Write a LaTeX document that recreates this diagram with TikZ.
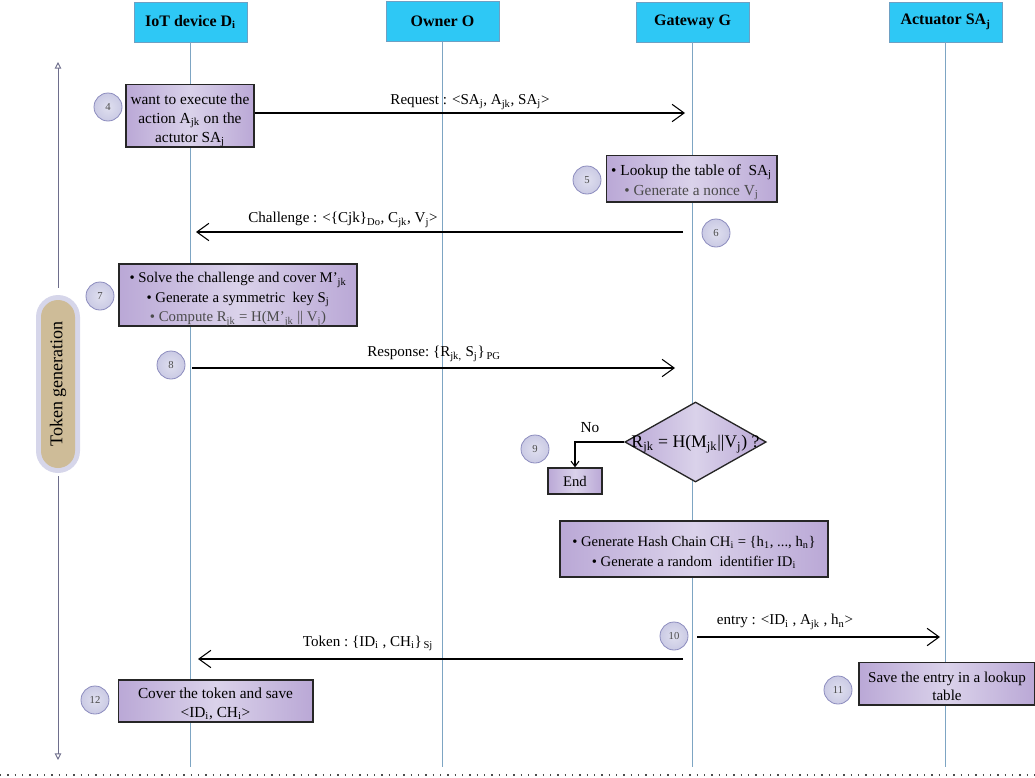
\documentclass[tikz,border=0pt]{standalone}
\usepackage{fontspec}
\setmainfont{Liberation Serif}
\usetikzlibrary{arrows.meta,shapes.geometric,calc}
\newcommand{\sbs}[1]{\textsubscript{#1}}
\definecolor{hdr}{RGB}{46,200,245}
\definecolor{hdrb}{RGB}{110,160,195}
\definecolor{life}{RGB}{125,165,195}
\definecolor{boxedge}{RGB}{186,168,214}
\definecolor{boxmid}{RGB}{218,210,234}
\definecolor{circf}{RGB}{202,202,228}
\definecolor{circb}{RGB}{140,140,190}
\definecolor{tgray}{RGB}{75,75,75}
\definecolor{pillout}{RGB}{214,214,234}
\definecolor{pillin}{RGB}{206,188,152}
\definecolor{sidearrow}{RGB}{110,110,140}
\begin{document}
\begin{tikzpicture}[x=0.75pt,y=-0.75pt,
  font=\fontsize{11.3}{13}\selectfont,
  hdrbox/.style={draw=hdrb, fill=hdr, minimum width=85pt, minimum height=30pt,
    inner sep=0pt, font=\fontsize{12}{14}\selectfont\bfseries},
  lifeline/.style={draw=life, line width=0.8pt},
  actbox/.style={draw=black!85, line width=1pt, left color=boxedge, right color=boxedge,
    middle color=boxmid, inner sep=1pt, align=center},
  boxtext/.style={inner sep=0pt, align=center},
  stepnum/.style={circle, draw=circb, line width=0.6pt, inner color=circf!60, outer color=circf,
    minimum size=21pt, inner sep=0pt, font=\fontsize{8}{9}\selectfont, text=tgray},
  msg/.style={draw=black, line width=0.8pt, -{Straight Barb[length=9pt,width=13pt,line width=0.8pt]}},
  msglabel/.style={font=\fontsize{11.3}{13}\selectfont, inner sep=1pt},
  sidetip/.style={-{Triangle[open,length=5pt,width=5pt]}, draw=sidearrow, line width=0.7pt}
]
\useasboundingbox (0,0) rectangle (1035,778);

% headers
\node[hdrbox] (hD) at (190.5,22) {IoT device D\sbs{\bfseries i}};
\node[hdrbox] (hO) at (442.5,21.5) {Owner O};
\node[hdrbox] (hG) at (692.5,22) {Gateway G};
\node[hdrbox] (hA) at (945.5,22) {Actuator SA\sbs{\bfseries j}};

% lifeline ends
\coordinate (eD) at (190.5,767);
\coordinate (eO) at (442.5,767);
\coordinate (eG) at (692.5,767);
\coordinate (eA) at (945.5,767);
\draw[lifeline] (hD.south) -- (eD);
\draw[lifeline] (hO.south) -- (eO);
\draw[lifeline] (hG.south) -- (eG);
\draw[lifeline] (hA.south) -- (eA);

% side arrow + pill
\node[draw=none, fill=pillout, rounded corners=16.5pt, minimum width=33pt, minimum height=133.5pt, inner sep=0pt] (pill) at (58,384) {};
\node[draw=none, fill=pillin, rounded corners=12.75pt, minimum width=25.5pt, minimum height=126pt, inner sep=0pt] (pilltext) at (58,384) {};
\node[rotate=90, font=\fontsize{13.5}{15}\selectfont] (pilllabel) at (58,384) {Token generation};
\coordinate (sideTop) at (58,62);
\coordinate (sideBot) at (58,760);
\draw[sidetip] ($(pill.north)+(0,-7)$) -- (sideTop);
\draw[sidetip] ($(pill.south)+(0,3)$) -- (sideBot);

% step 4
\node[actbox, minimum width=96pt, minimum height=47pt] (s4) at (190,115.5) {};
\node[boxtext, font=\fontsize{11.5}{14.2}\selectfont] (s4t) at ($(s4.center)+(0,5)$)
  {want to execute the\\action A\sbs{jk} on the\\actutor SA\sbs{j}};
\node[stepnum] (n4) at (108,107) {4};
\coordinate (reqEnd) at (685,113);
\draw[msg] (s4.east |- reqEnd) -- (reqEnd);
\node[msglabel] (lreq) at (470,102) {Request : <SA\sbs{j}, A\sbs{jk}, SA\sbs{j}>};

% step 5
\node[actbox, minimum width=128pt, minimum height=35pt] (s5) at (691.5,178.5) {};
\node[boxtext, font=\fontsize{11.5}{15}\selectfont] (s5t) at ($(s5.center)+(0,4)$)
  {\textbullet\ Lookup the table of\ \ SA\sbs{j}\\\textcolor{tgray}{\textbullet\ Generate a nonce V\sbs{j}}};
\node[stepnum] (n5) at (587,180) {5};

% step 6 challenge
\node[stepnum] (n6) at (716,233) {6};
\coordinate (chS) at (683,232);
\coordinate (chE) at (196,232);
\draw[msg] (chS) -- (chE);
\node[msglabel] (lch) at (343,220) {Challenge : <\{Cjk\}\sbs{Do}, C\sbs{jk}, V\sbs{j}>};

% step 7
\node[actbox, minimum width=178.5pt, minimum height=46.5pt] (s7) at (238,295) {};
\node[boxtext, font=\fontsize{11.1}{14.6}\selectfont] (s7t) at ($(s7.center)+(0,4.5)$)
  {\textbullet\ Solve the challenge and cover M'\sbs{jk}\\
   \textbullet\ Generate a symmetric\ \ key S\sbs{j}\\
   \textcolor{tgray}{\textbullet\ Compute R\sbs{jk} = H(M'\sbs{jk} || V\sbs{j})}};
\node[stepnum] (n7) at (100,296) {7};

% step 8 response
\node[stepnum] (n8) at (171,365) {8};
\coordinate (rsS) at (192,368);
\coordinate (rsE) at (675,368);
\draw[msg] (rsS) -- (rsE);
\node[msglabel] (lrs) at (434,354) {Response:\ \{R\sbs{jk,} S\sbs{j}\}\sbs{\,PG}};

% step 9 decision
\node[diamond, draw=black!85, line width=1pt, left color=boxedge, right color=boxedge, middle color=boxmid,
      minimum width=106pt, minimum height=60pt, inner sep=0pt] (dia) at (695.5,442) {};
\node[font=\fontsize{13.3}{15}\selectfont] (dialabel) at (695.5,444) {R\sbs{jk} = H(M\sbs{jk}||V\sbs{j}) ?};
\node[actbox, minimum width=40.5pt, minimum height=19.5pt, font=\fontsize{11}{12}\selectfont] (end) at (575,481) {End};
\node[stepnum] (n9) at (535,449) {9};
\draw[line width=0.8pt, -{Straight Barb[length=4pt,width=6pt]}] (dia.west) -| (end.north);
\node[font=\fontsize{11.5}{13}\selectfont] (lno) at (590,428) {No};

% hash chain
\node[actbox, minimum width=201pt, minimum height=42pt] (hash) at (694,549) {};
\node[boxtext, font=\fontsize{11}{15}\selectfont] (hasht) at ($(hash.center)+(0,3.5)$)
  {\textbullet\ Generate Hash Chain CH\sbs{i} = \{h\sbs{1}, ..., h\sbs{n}\}\\
   \textbullet\ Generate a random\ \ identifier ID\sbs{i}};

% step 10 entry + token
\node[stepnum] (n10) at (674,636) {10};
\coordinate (enS) at (697,637);
\coordinate (enE) at (940,637);
\draw[msg] (enS) -- (enE);
\node[msglabel] (len) at (785,622) {entry : <ID\sbs{i} , A\sbs{jk} , h\sbs{n}>};
\coordinate (tkS) at (683,659);
\coordinate (tkE) at (198,659);
\draw[msg] (tkS) -- (tkE);
\node[msglabel] (ltk) at (368,643) {Token :\ \{ID\sbs{i} , CH\sbs{i}\}\sbs{\,Sj}};

% step 11
\node[actbox, minimum width=132pt, minimum height=32pt] (s11) at (947,683.5) {};
\node[boxtext, font=\fontsize{11.3}{13.5}\selectfont] (s11t) at ($(s11.center)+(0,3)$)
  {Save the entry in a lookup\\table};
\node[stepnum] (n11) at (838,690) {11};

% step 12
\node[actbox, minimum width=146pt, minimum height=31.5pt] (s12) at (215.5,701) {};
\node[boxtext, font=\fontsize{11.5}{14}\selectfont] (s12t) at ($(s12.center)+(0,3)$)
  {Cover the token and save\\<ID\sbs{i}, CH\sbs{i}>};
\node[stepnum] (n12) at (95,700) {12};

% bottom dotted line
\coordinate (dotL) at (0,775);
\coordinate (dotR) at (1035,775);
\draw[black!70, line width=0.9pt, dash pattern=on 1pt off 4.5pt] (dotL) -- (dotR);
\end{tikzpicture}
\end{document}
